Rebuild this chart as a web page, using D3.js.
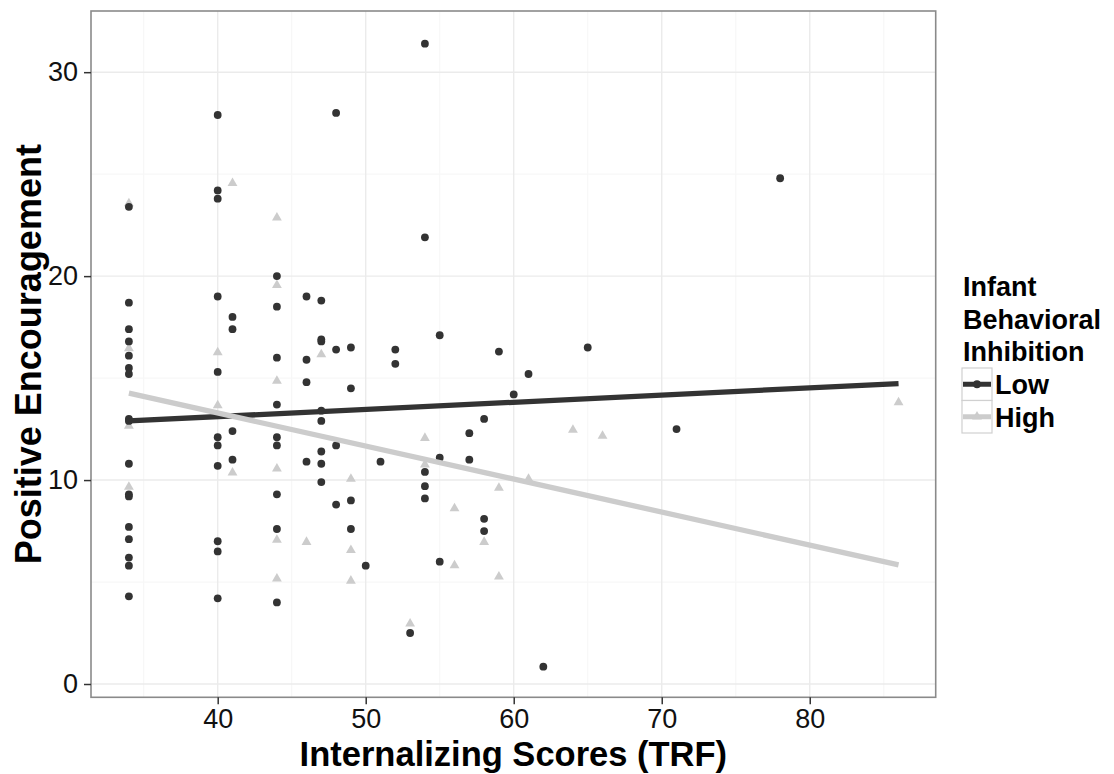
<!DOCTYPE html>
<html><head><meta charset="utf-8">
<script src="https://cdn.jsdelivr.net/npm/d3@7"></script>
<style>
html,body{margin:0;padding:0;background:#fff;}
svg{display:block;font-family:"Liberation Sans",Arial,sans-serif;}
</style></head>
<body><svg id="c" width="1114" height="774"></svg>
<script>
// ---- data ----
const lowX = [34,34,34,34,34,34,34,34,34,34,34,34,34,34,34,34,34,
  40,40,40,40,40,40,40,40,40,40,40,
  41,41,41,41,
  44,44,44,44,44,44,44,44,44,
  46,46,46,46,
  47,47,47,47,47,47,47,47,
  48,48,48,48,
  49,49,49,49,
  50,51,52,52,53,
  54,54,54,54,54,
  55,55,55,
  57,57,
  58,58,58,
  59,60,61,62,65,71,78];
const lowY = [23.4,18.7,17.4,16.8,16.1,15.5,15.2,13.0,12.9,10.8,9.3,9.2,7.7,7.1,6.2,5.8,4.3,
  27.9,24.2,23.8,19.0,15.3,12.1,11.7,10.7,7.0,6.5,4.2,
  18.0,17.4,12.4,11.0,
  20.0,18.5,16.0,13.7,12.1,11.7,9.3,7.6,4.0,
  19.0,15.9,14.8,10.9,
  18.8,16.9,16.8,13.4,12.9,11.4,10.8,9.9,
  28.0,16.4,11.7,8.8,
  16.5,14.5,9.0,7.6,
  5.8,10.9,16.4,15.7,2.5,
  31.4,21.9,10.4,9.7,9.1,
  17.1,11.1,6.0,
  12.3,11.0,
  13.0,8.1,7.5,
  16.3,14.2,15.2,0.85,16.5,12.5,24.8];
const highX = [34,34,34,34, 40,40, 41,41, 44,44,44,44,44,44, 46, 47, 49,49,49, 53, 54,54, 56,56, 58, 59,59, 61, 64, 66, 86];
const highY = [23.6,16.5,12.7,9.7, 16.3,13.7, 24.6,10.4, 22.9,19.6,14.9,10.6,7.1,5.2, 7.0, 16.2, 10.1,6.6,5.1, 3.0, 12.1,10.8, 8.65,5.85, 7.0, 9.65,5.3, 10.1, 12.5, 12.2, 13.85];
// fitted lines (endpoints)
const fitX = [34, 86];
const lowFit = [12.9, 14.73];
const highFit = [14.26, 5.84];
const xTicks = [40,50,60,70,80];
const yTicks = [0,10,20,30];
const groups = ["Low","High"];
const legendTitle = ["Infant","Behavioral","Inhibition"];

// ---- layout ----
const svg = d3.select("#c");
const L = 91, R = 935.7, T = 11, B = 697.3;
const x = d3.scaleLinear().domain([31.44, 88.51]).range([L, R]);
const y = d3.scaleLinear().domain([-0.652, 33.0]).range([B, T]);
const dark = "#333333", light = "#cccccc";

// panel background + grid
svg.append("rect").attr("x",L).attr("y",T).attr("width",R-L).attr("height",B-T).attr("fill","#fff");
const minorX = [35,45,55,65,75,85], minorY = [5,15,25];
const g = svg.append("g");
g.selectAll(".mx").data(minorX).enter().append("line")
  .attr("x1",d=>x(d)).attr("x2",d=>x(d)).attr("y1",T).attr("y2",B)
  .attr("stroke","#f7f7f7").attr("stroke-width",1.2);
g.selectAll(".my").data(minorY).enter().append("line")
  .attr("y1",d=>y(d)).attr("y2",d=>y(d)).attr("x1",L).attr("x2",R)
  .attr("stroke","#f7f7f7").attr("stroke-width",1.2);
g.selectAll(".Mx").data(xTicks).enter().append("line")
  .attr("x1",d=>x(d)).attr("x2",d=>x(d)).attr("y1",T).attr("y2",B)
  .attr("stroke","#ebebeb").attr("stroke-width",1.4);
g.selectAll(".My").data(yTicks).enter().append("line")
  .attr("y1",d=>y(d)).attr("y2",d=>y(d)).attr("x1",L).attr("x2",R)
  .attr("stroke","#ebebeb").attr("stroke-width",1.4);

// points: triangles first, then circles
const tri = d3.symbol().type(d3.symbolTriangle).size(42);
svg.append("g").selectAll("path").data(highX.map((v,i)=>[v,highY[i]])).enter().append("path")
  .attr("d",tri).attr("transform",d=>`translate(${x(d[0])},${y(d[1])+0.8})`).attr("fill",light);
svg.append("g").selectAll("circle").data(lowX.map((v,i)=>[v,lowY[i]])).enter().append("circle")
  .attr("cx",d=>x(d[0])).attr("cy",d=>y(d[1])).attr("r",3.9).attr("fill",dark);

// fit lines
const line = d3.line().x(d=>x(d[0])).y(d=>y(d[1]));
svg.append("path").datum(fitX.map((v,i)=>[v,lowFit[i]])).attr("d",line)
  .attr("stroke",dark).attr("stroke-width",5.3).attr("fill","none");
svg.append("path").datum(fitX.map((v,i)=>[v,highFit[i]])).attr("d",line)
  .attr("stroke",light).attr("stroke-width",5.3).attr("fill","none");

// panel border
svg.append("rect").attr("x",L).attr("y",T).attr("width",R-L).attr("height",B-T)
  .attr("fill","none").attr("stroke","#8a8a8a").attr("stroke-width",1.6);

// axes
const xAxis = svg.append("g").attr("transform",`translate(0,${B})`)
  .call(d3.axisBottom(x).tickValues(xTicks).tickSize(7).tickPadding(5).tickFormat(d3.format("d")));
const yAxis = svg.append("g").attr("transform",`translate(${L},0)`)
  .call(d3.axisLeft(y).tickValues(yTicks).tickSize(7).tickPadding(6).tickFormat(d3.format("d")));
[xAxis,yAxis].forEach(a=>{
  a.select(".domain").remove();
  a.selectAll(".tick line").attr("stroke","#333").attr("stroke-width",1.5);
  a.selectAll(".tick text").attr("fill","#111").style("font-size","27px")
   .style("font-family",'"Liberation Sans",Arial,sans-serif');
});

// axis titles
svg.append("text").attr("x",(L+R)/2).attr("y",765.5).attr("text-anchor","middle")
  .style("font-size","34.5px").style("font-weight","bold").attr("fill","#000")
  .text("Internalizing Scores (TRF)");
svg.append("text").attr("transform",`translate(41,${(T+B)/2}) rotate(-90)`).attr("text-anchor","middle")
  .style("font-size","36px").style("font-weight","bold").attr("fill","#000")
  .text("Positive Encouragement");

// legend
const lg = svg.append("g");
legendTitle.forEach((t,i)=>{
  lg.append("text").attr("x",963).attr("y",296+i*32.5).style("font-size","27px")
    .style("font-weight","bold").attr("fill","#000").text(t);
});
const keyX = 962, keyW = 30, keyH = 32.5, key0 = 368;
groups.forEach((gname,i)=>{
  const ky = key0 + i*keyH;
  const col = i===0 ? dark : light;
  lg.append("rect").attr("x",keyX).attr("y",ky).attr("width",keyW).attr("height",keyH)
    .attr("fill","#fff").attr("stroke","#d0d0d0").attr("stroke-width",1.2);
  lg.append("line").attr("x1",keyX+1).attr("x2",keyX+keyW-1).attr("y1",ky+keyH/2).attr("y2",ky+keyH/2)
    .attr("stroke",col).attr("stroke-width",5);
  if(i===0) lg.append("circle").attr("cx",keyX+keyW/2).attr("cy",ky+keyH/2).attr("r",3.9).attr("fill",col);
  else lg.append("path").attr("d",tri).attr("transform",`translate(${keyX+keyW/2},${ky+keyH/2})`).attr("fill",col);
  lg.append("text").attr("x",keyX+keyW+3).attr("y",ky+keyH/2+10).style("font-size","27px")
    .style("font-weight","bold").attr("fill","#000").text(gname);
});
</script></body></html>
